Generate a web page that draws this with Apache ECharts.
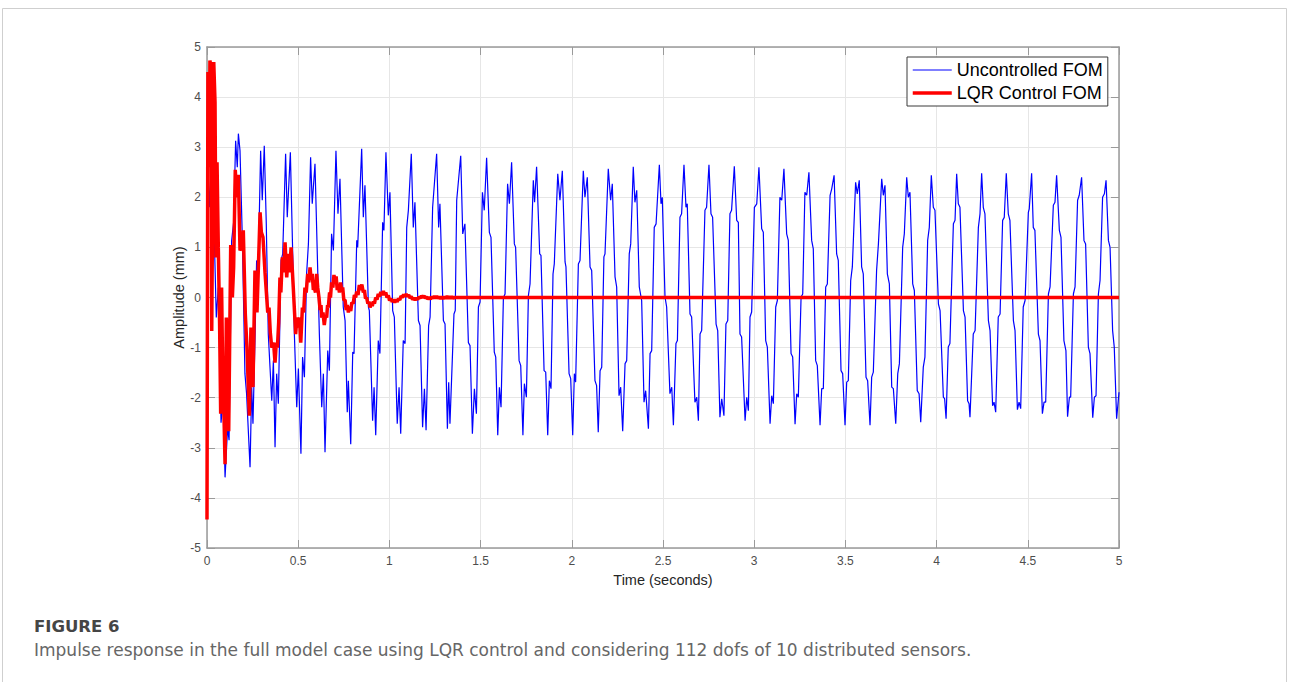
<!DOCTYPE html>
<html>
<head>
<meta charset="utf-8">
<script src="https://cdn.jsdelivr.net/npm/echarts@6/dist/echarts.min.js"></script>
<style>
html,body{margin:0;padding:0;background:#fff;}
#chart{width:1290px;height:682px;}
</style>
</head>
<body>
<div id="chart"></div>
<script>
// ---- data (time in seconds, amplitude in mm) ----
const xTicks = [0, 0.5, 1, 1.5, 2, 2.5, 3, 3.5, 4, 4.5, 5];
const yTicks = [-5, -4, -3, -2, -1, 0, 1, 2, 3, 4, 5];
const seriesNames = ['Uncontrolled FOM', 'LQR Control FOM'];

const uncontrolledFOM = [
[0.000,0],[0.005,2.6],[0.015,1.8],[0.026,3.0],[0.040,1.2],[0.051,-0.4],[0.062,0.2],[0.077,-2.5],[0.088,-2.0],[0.099,-3.59],
[0.113,-2.6],[0.121,-2.85],[0.135,1.13],[0.146,1.5],[0.157,3.13],[0.166,2.6],[0.172,3.27],[0.181,2.93],[0.194,1.14],[0.208,-1.52],
[0.217,-1.92],[0.236,-3.39],[0.245,-1.79],[0.252,-2.52],[0.263,-0.86],[0.272,0.74],[0.281,0.61],[0.294,2.93],[0.303,1.94],[0.314,3.03],
[0.325,1.47],[0.336,-0.73],[0.355,-2.06],[0.364,-1.26],[0.373,-2.99],[0.382,-1.52],[0.391,-2.12],[0.406,0.74],[0.415,0.87],[0.431,2.87],
[0.440,1.6],[0.457,2.9],[0.470,0.87],[0.479,-0.73],[0.492,-2.19],[0.501,-1.42],[0.515,-3.12],[0.524,-1.19],[0.534,-1.59],[0.546,0.47],
[0.556,1.07],[0.568,2.8],[0.577,1.87],[0.592,2.67],[0.607,0.54],[0.616,-0.73],[0.629,-2.19],[0.638,-1.52],[0.647,-3.09],[0.662,-1.06],
[0.671,-1.46],[0.683,1.27],[0.693,0.94],[0.707,2.93],[0.718,1.67],[0.729,2.37],[0.747,-0.19],[0.757,-0.46],[0.769,-2.29],[0.775,-1.66],
[0.788,-2.93],[0.799,-1.09],[0.806,-1.12],[0.821,1.14],[0.826,1.0],[0.848,2.97],[0.857,1.6],[0.866,2.24],[0.885,-0.19],[0.890,-0.26],
[0.908,-2.46],[0.916,-1.79],[0.925,-2.75],[0.939,-0.86],[0.948,-1.12],[0.963,1.5],[0.970,1.34],[0.981,2.9],[0.994,1.64],[1.003,2.1],
[1.018,-0.26],[1.027,-0.39],[1.043,-2.52],[1.053,-1.79],[1.062,-2.72],[1.076,-0.86],[1.086,-0.92],[1.095,1.4],[1.104,1.74],[1.120,2.87],
[1.131,1.4],[1.140,1.9],[1.159,-0.46],[1.168,-0.56],[1.182,-2.59],[1.192,-1.82],[1.201,-2.65],[1.215,-0.56],[1.223,-0.39],[1.237,1.8],
[1.259,2.87],[1.270,1.4],[1.277,1.87],[1.296,-0.46],[1.305,-0.53],[1.318,-2.62],[1.325,-1.69],[1.332,-2.52],[1.354,-0.33],[1.361,-0.26],
[1.369,1.94],[1.391,2.83],[1.402,1.27],[1.414,1.47],[1.433,-0.9],[1.442,-0.96],[1.455,-2.72],[1.466,-1.82],[1.477,-2.32],[1.488,-0.19],
[1.497,-0.09],[1.510,2.1],[1.520,1.74],[1.533,2.79],[1.548,1.3],[1.557,1.2],[1.575,-1.09],[1.583,-1.19],[1.594,-2.75],[1.603,-1.79],
[1.612,-2.19],[1.625,0.0],[1.634,0.07],[1.648,2.27],[1.658,1.87],[1.670,2.7],[1.685,1.07],[1.692,1.0],[1.711,-1.26],[1.720,-1.36],
[1.732,-2.75],[1.740,-1.72],[1.751,-1.99],[1.762,0.04],[1.771,0.27],[1.789,2.34],[1.796,1.9],[1.807,2.61],[1.824,0.87],[1.831,0.84],
[1.848,-1.46],[1.857,-1.49],[1.868,-2.75],[1.877,-1.66],[1.886,-1.82],[1.897,0.47],[1.904,0.67],[1.923,2.47],[1.935,1.94],[1.948,2.53],
[1.963,0.71],[1.968,0.61],[1.985,-1.52],[1.994,-1.62],[2.005,-2.75],[2.014,-1.52],[2.021,-1.69],[2.036,0.67],[2.045,0.74],[2.063,2.53],
[2.072,2.0],[2.085,2.4],[2.100,0.61],[2.109,0.54],[2.127,-1.66],[2.136,-1.76],[2.145,-2.69],[2.155,-1.46],[2.164,-1.39],[2.176,0.81],
[2.182,0.87],[2.200,2.57],[2.213,1.94],[2.222,2.27],[2.237,0.41],[2.246,0.21],[2.259,-1.96],[2.268,-1.79],[2.279,-2.67],[2.292,-1.32],
[2.301,-1.26],[2.315,0.87],[2.323,1.07],[2.337,2.61],[2.346,1.9],[2.356,2.14],[2.370,0.21],[2.383,-0.06],[2.396,-2.09],[2.405,-1.86],
[2.420,-2.62],[2.429,-1.12],[2.438,-1.06],[2.452,1.4],[2.462,1.47],[2.480,2.65],[2.489,1.87],[2.496,2.0],[2.511,0.01],[2.520,-0.19],
[2.538,-1.92],[2.548,-1.79],[2.557,-2.55],[2.571,-0.92],[2.579,-0.86],[2.593,1.6],[2.602,1.67],[2.615,2.65],[2.626,1.8],[2.633,1.87],
[2.648,-0.33],[2.657,-0.39],[2.675,-2.09],[2.685,-1.99],[2.694,-2.46],[2.703,-0.73],[2.712,-0.66],[2.730,1.74],[2.739,1.8],[2.752,2.65],
[2.763,1.67],[2.772,1.6],[2.791,-0.53],[2.800,-0.66],[2.812,-2.39],[2.822,-2.02],[2.834,-2.36],[2.845,-0.53],[2.855,-0.46],[2.867,1.67],
[2.876,1.74],[2.891,2.62],[2.904,1.54],[2.913,1.5],[2.922,-0.73],[2.931,-0.79],[2.950,-2.46],[2.959,-1.99],[2.968,-2.26],[2.977,-0.39],
[2.986,-0.29],[3.001,1.8],[3.014,1.87],[3.026,2.6],[3.041,1.37],[3.050,1.3],[3.063,-0.86],[3.072,-0.99],[3.087,-2.52],[3.096,-1.96],
[3.105,-2.12],[3.118,-0.19],[3.127,-0.06],[3.141,2.0],[3.151,1.94],[3.163,2.57],[3.178,1.27],[3.187,1.14],[3.202,-1.12],[3.211,-1.19],
[3.224,-2.53],[3.233,-1.92],[3.242,-1.99],[3.257,0.01],[3.266,0.07],[3.278,2.1],[3.288,2.04],[3.300,2.5],[3.315,1.14],[3.324,0.97],
[3.337,-1.26],[3.346,-1.36],[3.361,-2.55],[3.370,-1.82],[3.379,-1.82],[3.392,0.21],[3.401,0.27],[3.416,2.04],[3.425,2.17],[3.438,2.44],
[3.452,0.87],[3.461,0.74],[3.476,-1.46],[3.485,-1.52],[3.498,-2.55],[3.507,-1.69],[3.516,-1.66],[3.529,0.34],[3.538,0.61],[3.556,2.3],
[3.565,2.07],[3.576,2.34],[3.589,0.61],[3.598,0.47],[3.613,-1.59],[3.622,-1.66],[3.635,-2.55],[3.644,-1.59],[3.653,-1.49],[3.671,0.54],
[3.681,1.07],[3.699,2.37],[3.708,2.04],[3.717,2.24],[3.730,0.47],[3.741,0.27],[3.754,-1.79],[3.763,-1.82],[3.776,-2.52],[3.787,-1.52],
[3.796,-1.32],[3.814,1.0],[3.823,1.27],[3.836,2.4],[3.845,2.0],[3.854,2.1],[3.869,0.27],[3.878,0.14],[3.894,-1.86],[3.904,-1.92],
[3.913,-2.49],[3.927,-1.39],[3.936,-1.19],[3.951,1.14],[3.960,1.4],[3.971,2.44],[3.982,1.8],[3.991,1.74],[4.010,-0.13],[4.019,-0.26],
[4.037,-1.99],[4.044,-2.02],[4.052,-2.42],[4.064,-0.99],[4.073,-0.92],[4.092,1.47],[4.101,1.54],[4.110,2.47],[4.119,1.87],[4.128,1.8],
[4.147,-0.26],[4.156,-0.39],[4.170,-2.06],[4.178,-2.12],[4.183,-2.39],[4.201,-0.73],[4.211,-0.66],[4.229,1.4],[4.238,1.67],[4.247,2.48],
[4.256,1.8],[4.265,1.67],[4.284,-0.46],[4.293,-0.66],[4.307,-2.16],[4.315,-2.09],[4.324,-2.29],[4.338,-0.39],[4.348,-0.33],[4.362,1.54],
[4.371,1.6],[4.382,2.48],[4.393,1.67],[4.402,1.54],[4.421,-0.46],[4.430,-0.66],[4.443,-2.24],[4.452,-2.09],[4.461,-2.22],[4.475,-0.19],
[4.485,-0.06],[4.503,1.7],[4.508,1.77],[4.521,2.48],[4.530,1.4],[4.539,1.34],[4.558,-0.73],[4.567,-0.86],[4.580,-2.32],[4.589,-2.09],
[4.598,-2.09],[4.613,0.07],[4.622,0.21],[4.640,1.84],[4.649,1.9],[4.658,2.44],[4.673,1.34],[4.682,1.2],[4.698,-0.86],[4.709,-1.06],
[4.718,-2.38],[4.728,-1.99],[4.735,-1.99],[4.750,0.07],[4.759,0.21],[4.773,1.94],[4.782,2.04],[4.795,2.4],[4.808,1.14],[4.817,1.07],
[4.832,-0.99],[4.841,-1.12],[4.856,-2.4],[4.865,-1.99],[4.874,-1.96],[4.887,0.07],[4.896,0.34],[4.910,2.0],[4.920,2.07],[4.929,2.34],
[4.942,1.14],[4.951,1.0],[4.965,-0.66],[4.974,-0.99],[4.987,-2.42],[5.000,-1.89]
];

const lqrControlFOM = [
[0,-4.43],[0.005,4.5],[0.013,2.6],[0.016,4.73],[0.022,4.6],[0.026,-0.67],[0.031,2.0],[0.037,4.7],[0.044,3.9],[0.049,0.8],
[0.055,2.7],[0.062,1.0],[0.069,-0.5],[0.075,-2.32],[0.080,0.2],[0.086,-1.5],[0.091,-2.0],[0.099,-3.33],[0.106,-0.4],[0.113,-1.2],
[0.119,-2.67],[0.124,-1.0],[0.130,1.05],[0.139,0.0],[0.146,0.6],[0.155,2.55],[0.163,2.0],[0.172,2.45],[0.181,0.94],[0.190,1.0],
[0.199,1.34],[0.210,-0.33],[0.219,-1.0],[0.232,-2.36],[0.241,-0.6],[0.252,-1.79],[0.263,0.54],[0.274,-0.3],[0.291,1.7],[0.298,1.3],
[0.307,1.2],[0.318,0.5],[0.333,-0.3],[0.340,-0.2],[0.347,-0.7],[0.355,-1.0],[0.365,-0.9],[0.373,-1.3],[0.380,-0.9],[0.386,-1.0],
[0.393,-0.5],[0.400,0.4],[0.405,0.1],[0.413,0.8],[0.420,0.5],[0.428,1.1],[0.437,0.4],[0.446,0.87],[0.453,0.5],[0.461,1.0],
[0.467,0.6],[0.473,0.2],[0.480,-0.3],[0.486,-0.73],[0.493,-0.4],[0.501,-0.6],[0.507,-0.4],[0.514,-0.9],[0.523,-0.2],[0.530,-0.3],
[0.537,0.2],[0.544,0.1],[0.552,0.47],[0.558,0.3],[0.565,0.6],[0.571,0.35],[0.577,0.47],[0.583,0.15],[0.588,0.2],[0.595,0.1],
[0.601,0.47],[0.607,0.2],[0.614,0.0],[0.620,-0.25],[0.625,-0.15],[0.629,-0.4],[0.636,-0.3],[0.643,-0.55],[0.650,-0.35],[0.656,-0.4],
[0.661,-0.15],[0.665,-0.2],[0.672,0.1],[0.677,0.0],[0.683,0.3],[0.690,0.2],[0.696,0.45],[0.702,0.3],[0.708,0.42],[0.714,0.15],
[0.720,0.25],[0.726,0.1],[0.732,0.3],[0.738,0.15],[0.744,0.2],[0.750,-0.05],[0.757,-0.05],[0.763,-0.25],[0.769,-0.15],[0.775,-0.3],
[0.781,-0.18],[0.788,-0.27],[0.794,-0.1],[0.802,-0.12],[0.808,0.05],[0.815,0.0],[0.821,0.12],[0.828,0.05],[0.835,0.25],[0.842,0.15],
[0.849,0.26],[0.857,0.1],[0.863,0.15],[0.869,-0.02],[0.875,0.0],[0.882,-0.12],[0.888,-0.08],[0.894,-0.2],[0.900,-0.1],[0.906,-0.17],
[0.912,-0.08],[0.918,-0.12],[0.925,0.0],[0.932,-0.04],[0.939,0.07],[0.946,0.02],[0.953,0.11],[0.960,0.05],[0.967,0.13],[0.974,0.05],
[0.980,0.1],[0.987,0.0],[0.994,0.04],[1.001,-0.06],[1.008,-0.02],[1.015,-0.09],[1.022,-0.04],[1.029,-0.1],[1.036,-0.04],[1.043,-0.09],
[1.050,-0.02],[1.057,-0.05],[1.064,0.03],[1.071,0.0],[1.078,0.06],[1.085,0.02],[1.092,0.07],[1.099,0.02],[1.106,0.05],[1.113,-0.01],
[1.120,0.02],[1.127,-0.04],[1.134,-0.01],[1.141,-0.05],[1.148,-0.01],[1.155,-0.04],[1.162,0.01],[1.169,-0.01],[1.176,0.03],[1.183,0.0],
[1.190,0.03],[1.197,-0.01],[1.204,0.01],[1.211,-0.03],[1.218,0.0],[1.225,-0.03],[1.232,0.01],[1.239,-0.01],[1.246,0.02],[1.253,-0.01],
[1.260,0.02],[1.267,-0.01],[1.274,0.01],[1.281,-0.02],[1.288,0.01],[1.295,-0.02],[1.302,0.01],[1.309,-0.01],[1.316,0.02],[1.323,-0.01],
[1.330,0.01],[1.337,-0.01],[1.344,0.01],[1.351,-0.01],[1.360,0.0],[5.0,0.0]
];

const figureLabel = 'FIGURE 6';
const captionText = 'Impulse response in the full model case using LQR control and considering 112 dofs of 10 distributed sensors.';

// ---- chart ----
const chart = echarts.init(document.getElementById('chart'), null, {renderer: 'svg'});
const axisColor = '#9a9a9a';
const labelColor = '#4d4d4d';
const fontFam = '"Liberation Sans", Arial, Helvetica, sans-serif';
const lineWidths = [1.2, 3.5];
const lineColors = ['#0000ff', '#ff0000'];

function baseX(pos, show) {
  return {
    type: 'value', position: pos,
    min: xTicks[0], max: xTicks[xTicks.length - 1], interval: xTicks[1] - xTicks[0],
    axisLine: {show: true, onZero: false, lineStyle: {color: axisColor, width: 1.5}},
    axisTick: {show: true, inside: true, length: 8, lineStyle: {color: axisColor, width: 1}},
    axisLabel: {show: show, color: labelColor, fontSize: 12, fontFamily: fontFam, margin: 7, showMinLabel: true, showMaxLabel: true},
    splitLine: {show: show, lineStyle: {color: '#e6e6e6', width: 1}}
  };
}
function baseY(pos, show) {
  return {
    type: 'value', position: pos,
    min: yTicks[0], max: yTicks[yTicks.length - 1], interval: yTicks[1] - yTicks[0],
    axisLine: {show: true, onZero: false, lineStyle: {color: axisColor, width: 1.5}},
    axisTick: {show: true, inside: true, length: 8, lineStyle: {color: axisColor, width: 1}},
    axisLabel: {show: show, color: labelColor, fontSize: 12, fontFamily: fontFam, margin: 6, showMinLabel: true, showMaxLabel: true},
    splitLine: {show: show, lineStyle: {color: '#e6e6e6', width: 1}}
  };
}

const xBottom = Object.assign(baseX('bottom', true), {
  name: 'Time (seconds)', nameLocation: 'middle', nameGap: 24,
  nameTextStyle: {color: '#262626', fontSize: 14.5, fontFamily: fontFam}
});
const yLeft = Object.assign(baseY('left', true), {
  name: 'Amplitude (mm)', nameLocation: 'middle', nameGap: 21, nameMoveOverlap: false,
  nameTextStyle: {color: '#262626', fontSize: 14.5, fontFamily: fontFam}
});

const option = {
  animation: false,
  backgroundColor: '#ffffff',
  grid: {left: 207, right: 171, top: 47, bottom: 134, containLabel: false},
  xAxis: [xBottom, baseX('top', false)],
  yAxis: [yLeft, baseY('right', false)],
  legend: {
    orient: 'vertical', left: 907, top: 57,
    itemWidth: 39, itemHeight: 18, itemGap: 5,
    padding: [4, 5, 4, 4],
    backgroundColor: '#ffffff', borderColor: '#3a3a3a', borderWidth: 1,
    selectedMode: false,
    itemStyle: {opacity: 0, borderWidth: 0},
    textStyle: {fontSize: 18, color: '#000', fontFamily: fontFam},
    data: seriesNames.map((n, i) => ({
      name: n,
      itemStyle: {opacity: 0, borderWidth: 0},
      lineStyle: {width: lineWidths[i], color: lineColors[i], opacity: 1}
    }))
  },
  series: [
    {
      name: seriesNames[0], type: 'line', data: uncontrolledFOM,
      xAxisIndex: 0, yAxisIndex: 0,
      symbol: 'none', showSymbol: false, smooth: false,
      lineStyle: {color: lineColors[0], width: lineWidths[0]},
      itemStyle: {color: lineColors[0]},
      z: 2
    },
    {
      name: seriesNames[1], type: 'line', data: lqrControlFOM,
      xAxisIndex: 0, yAxisIndex: 0,
      symbol: 'none', showSymbol: false, smooth: false,
      lineStyle: {color: lineColors[1], width: lineWidths[1]},
      itemStyle: {color: lineColors[1]},
      z: 3
    }
  ],
  graphic: [
    {type: 'rect', z: -10, silent: true, shape: {x: 2.5, y: 8.5, width: 1284, height: 690},
     style: {fill: 'none', stroke: '#cfcfcf', lineWidth: 1}},
    {type: 'text', left: 34, top: 618, silent: true,
     style: {text: figureLabel, fill: '#454545', font: 'bold 16.5px "DejaVu Sans", sans-serif'}},
    {type: 'text', left: 34, top: 641, silent: true,
     style: {text: captionText, fill: '#666666', font: '17px "DejaVu Sans", sans-serif'}}
  ]
};
chart.setOption(option);
</script>
</body>
</html>
